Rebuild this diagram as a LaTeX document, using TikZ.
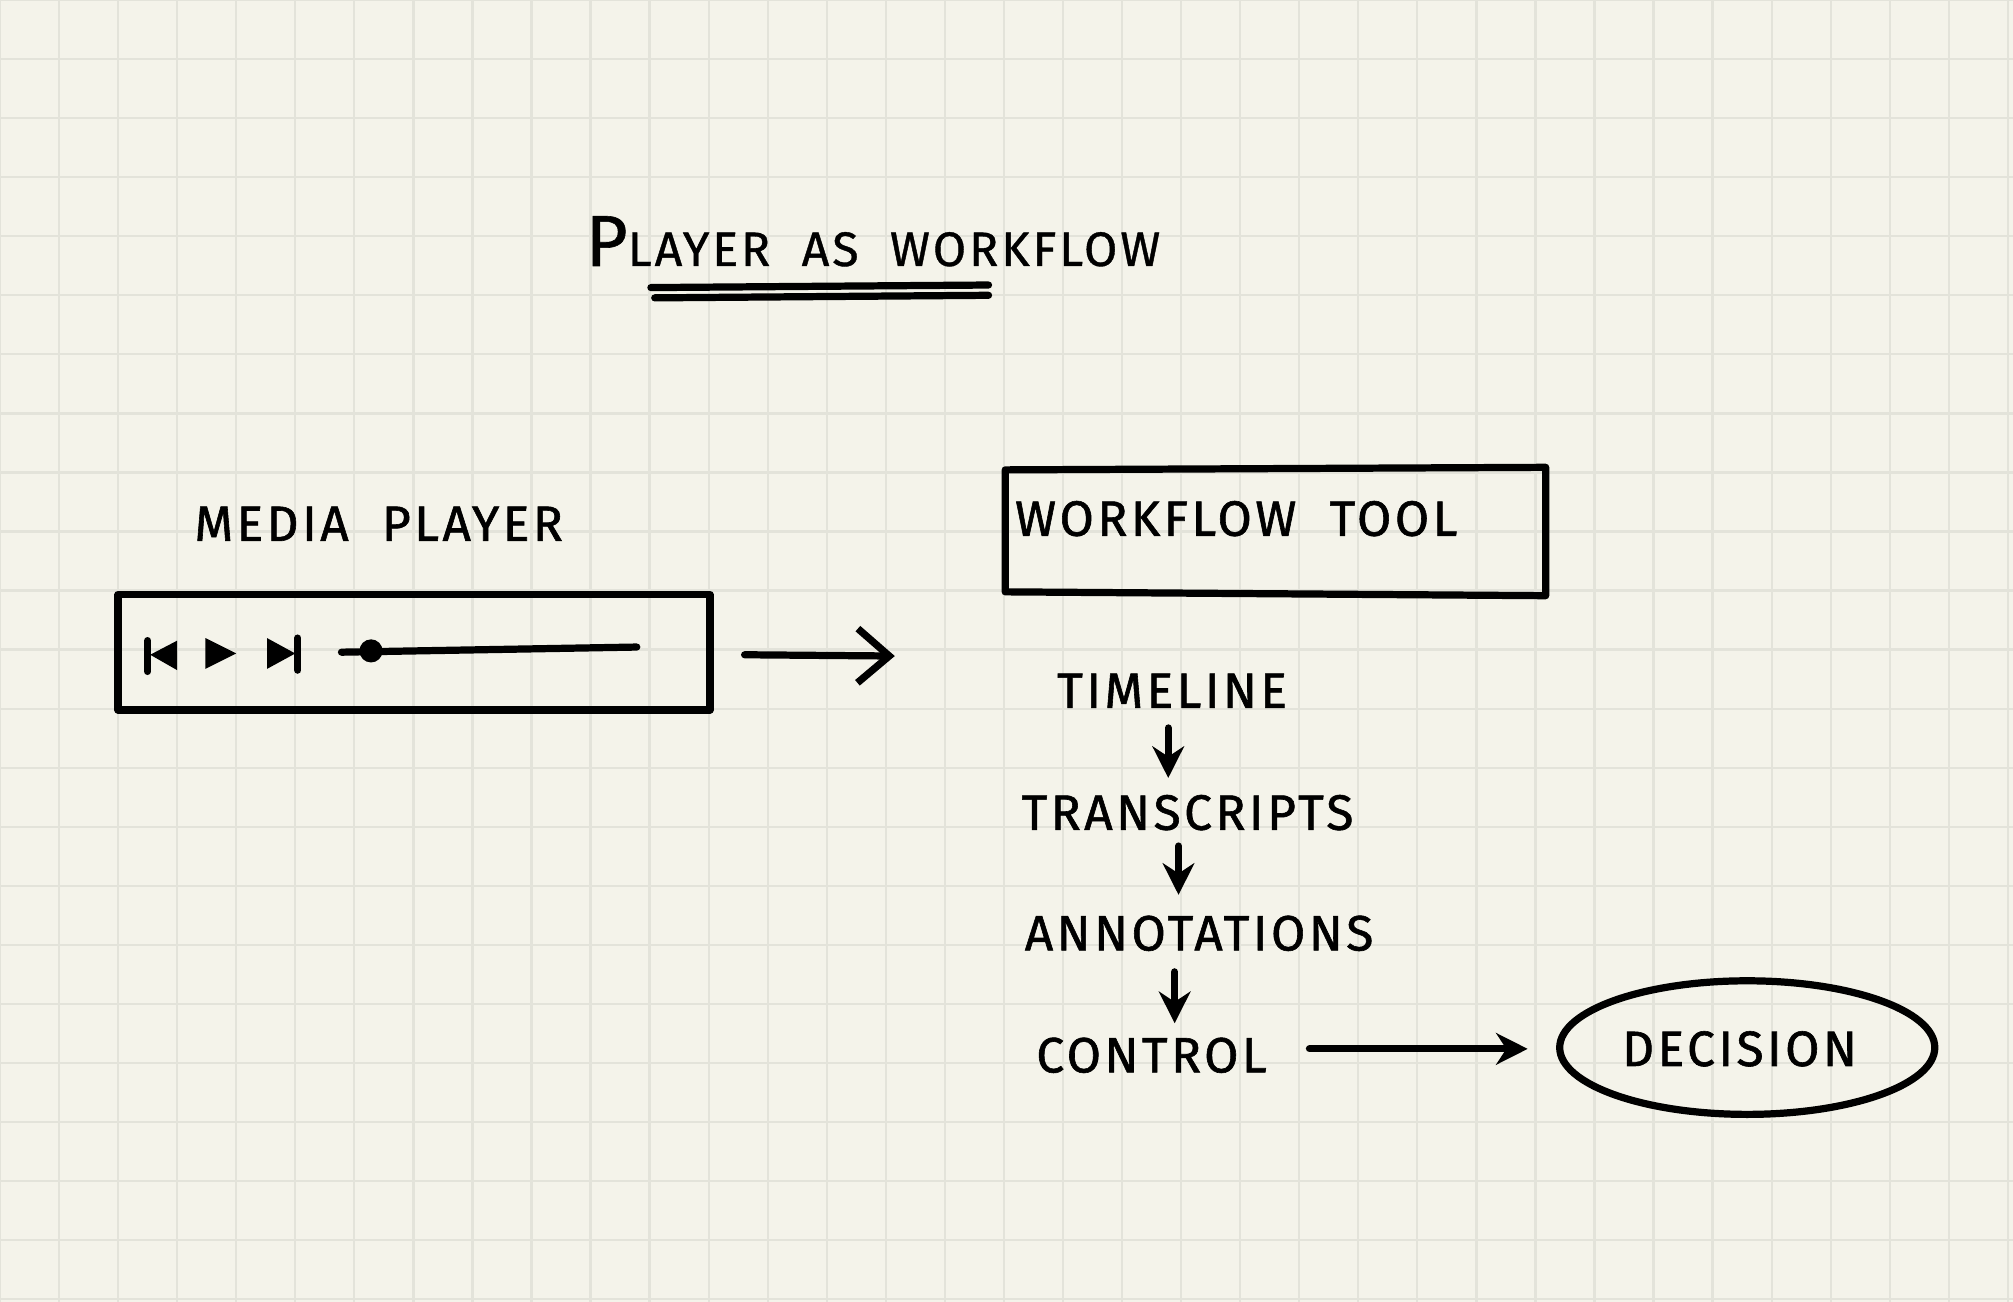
\documentclass[tikz,border=0pt]{standalone}
\usepackage{fontspec}
\setmainfont{Fira Sans}
\usetikzlibrary{arrows.meta,shapes.geometric}
\definecolor{paper}{HTML}{F4F3EA}
\definecolor{gridc}{HTML}{E3E3DA}
\begin{document}
\begin{tikzpicture}[x=0.01cm,y=-0.01cm,
  ink/.style={line width=1.6pt,black,line cap=round,line join=round},
  lbl/.style={font=\fontsize{11}{13}\selectfont\addfontfeatures{LetterSpace=7,FakeBold=1.2},inner sep=1pt},
  darr/.style={ink,-{Stealth[length=7pt,width=7pt]}},
  rarr/.style={ink,-{Straight Barb[length=7pt,width=12pt]}}]
\fill[paper] (0,0) rectangle (1568,1014);
\useasboundingbox (0,0) rectangle (1568,1014);
\foreach \x in {0,46,...,1568} \draw[gridc,line width=0.5pt] (\x,0) -- (\x,1014);
\foreach \y in {0,46,...,1014} \draw[gridc,line width=0.5pt] (0,\y) -- (1568,\y);
% title
\node[inner sep=1pt,font=\fontsize{10.7}{13}\selectfont\addfontfeatures{LetterSpace=6,FakeBold=0.8}] (title) at (680,188) {{\fontsize{16}{18}\selectfont P}LAYER\ \ AS\ \ WORKFLOW};
\draw[ink] (507,224) -- (770,222);
\draw[ink] (510,232) -- (770,230);
% media player
\node[lbl] (mp) at (295,408) {MEDIA\ \ PLAYER};
\draw[ink] (92,463) rectangle (553,553);
\fill (117,510) -- (138,499) -- (138,522) -- cycle; \draw[ink] (115,499) -- (115,523);
\fill (160,497) -- (184,509) -- (160,521) -- cycle;
\fill (208,497) -- (230,509) -- (208,521) -- cycle; \draw[ink] (232,497) -- (232,522);
\draw[ink] (266,508) -- (496,504);
\fill (289,507) circle (9);
\coordinate (a1) at (580,510); \coordinate (a2) at (697,511);
\draw[rarr] (a1) -- (a2);
% workflow tool
\draw[ink] (783,366) -- (1204,364) -- (1204,464) -- (783,461) -- cycle;
\node[lbl] (wt) at (963,404) {WORKFLOW\ \ TOOL};
\node[lbl] (tl) at (913,538) {TIMELINE};
\node[lbl] (tr) at (925,633) {TRANSCRIPTS};
\node[lbl] (an) at (934,727) {ANNOTATIONS};
\node[lbl] (ct) at (897,822) {CONTROL};
\draw[darr] (910,567) -- (910,606);
\draw[darr] (918,659) -- (918,697);
\draw[darr] (915,757) -- (915,797);
\node[ink,draw,ellipse,minimum width=2.92cm,minimum height=1.04cm,inner sep=0] (dec) at (1361,816) {};
\node[lbl] (dect) at (1355,817) {DECISION};
\coordinate (c1) at (1020,817);
\draw[darr] (c1) -- (1190,817);
\end{tikzpicture}
\end{document}
